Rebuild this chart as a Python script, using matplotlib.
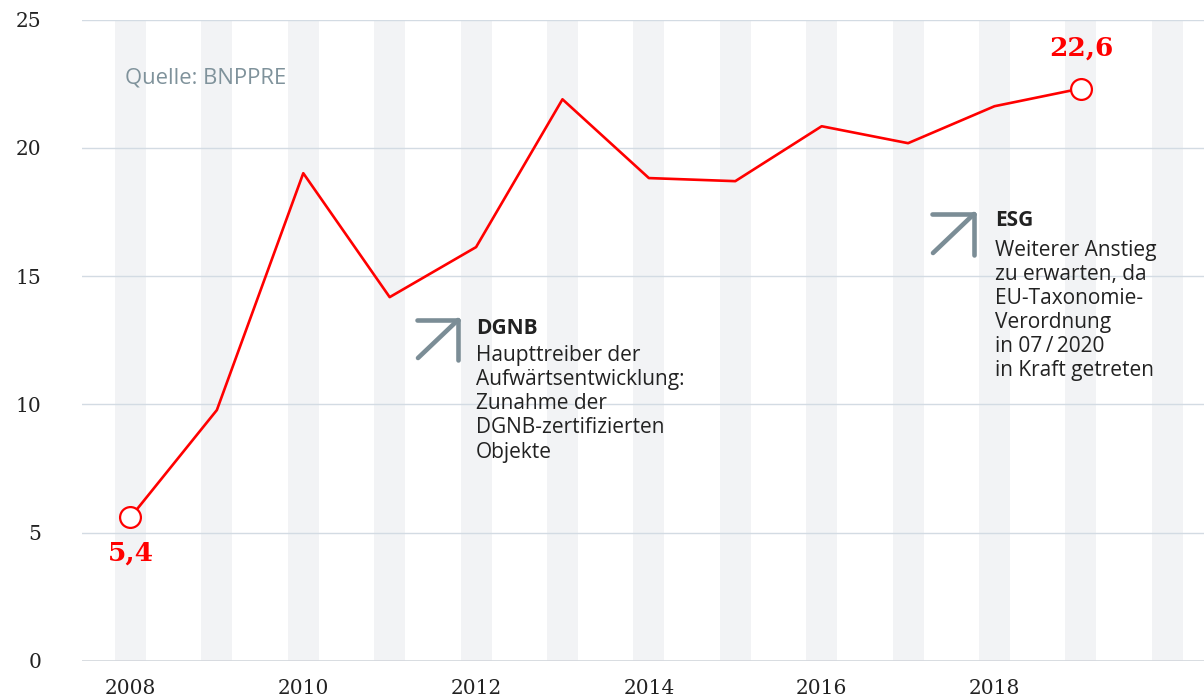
import matplotlib
matplotlib.use("Agg")
import matplotlib.pyplot as plt
from matplotlib.lines import Line2D

years = [2008, 2009, 2010, 2011, 2012, 2013, 2014, 2015, 2016, 2017, 2018, 2019]
values = [5.6, 9.78, 19.01, 14.18, 16.13, 21.89, 18.82, 18.70, 20.84, 20.18, 21.62, 22.31]
band_years = list(range(2008, 2021))
x_tick_years = [2008, 2010, 2012, 2014, 2016, 2018]
y_ticks = [0, 5, 10, 15, 20, 25]
first_label = "5,4"
last_label = "22,6"
source_text = "Quelle: BNPPRE"
dgnb_title = "DGNB"
dgnb_lines = ["Haupttreiber der", "Aufwärtsentwicklung:", "Zunahme der",
              "DGNB-zertifizierten", "Objekte"]
esg_title = "ESG"
esg_lines = ["Weiterer Anstieg", "zu erwarten, da", "EU-Taxonomie-",
             "Verordnung", "in 07\u2009/\u20092020", "in Kraft getreten"]

W, H = 1204, 699
fig = plt.figure(figsize=(W / 100, H / 100), dpi=100)
ax = fig.add_axes([82 / W, 1 - 661 / H, 1 - 82 / W, (661 - 19.5) / H])

RED = "#ff0000"
GREY = "#7b8d96"
TXT = "#222222"

for y in band_years:
    ax.axvspan(y - 0.18, y + 0.18, color="#f2f3f5", zorder=0, lw=0)
for t in y_ticks[1:]:
    ax.axhline(t, color="#d3dbe3", lw=1, zorder=1)
ax.axhline(0, color="#d5d9de", lw=2, zorder=1)

ax.plot(years, values, color=RED, lw=1.9, zorder=3)
ax.plot([years[0], years[-1]], [values[0], values[-1]], ls="none", marker="o",
        ms=15, mfc="white", mec=RED, mew=1.6, zorder=4)

ax.annotate(first_label, (years[0], values[0]), xytext=(0, -36),
            textcoords="offset pixels", ha="center", va="center",
            fontsize=19, fontweight="bold", color=RED, family="DejaVu Serif")
ax.annotate(last_label, (years[-1], values[-1]), xytext=(0, 40),
            textcoords="offset pixels", ha="center", va="center",
            fontsize=19, fontweight="bold", color=RED, family="DejaVu Serif")

ax.set_xlim(2007.439, 2020.425)
ax.set_ylim(0, 25)
ax.set_xticks(x_tick_years)
ax.set_xticklabels([str(y) for y in x_tick_years])
ax.set_yticks(y_ticks)
ax.tick_params(axis="x", length=0, pad=13, labelsize=14.5, labelcolor=TXT)
ax.tick_params(axis="y", length=0, pad=29.5, labelsize=14.5, labelcolor=TXT)
for lab in ax.get_xticklabels() + ax.get_yticklabels():
    lab.set_family("DejaVu Serif")
for s in ax.spines.values():
    s.set_visible(False)


def fp(x, y):
    return x / W, 1 - y / H


def arrow(x0, y0, x1, y1):
    segs = [((x0, y1), (x1, y1)), ((x1, y1), (x1, y0)), ((x0 + 1, y0 - 2), (x1, y1))]
    for (a, b) in segs:
        p, q = fp(*a), fp(*b)
        fig.add_artist(Line2D([p[0], q[0]], [p[1], q[1]], color=GREY, lw=3.3,
                              solid_capstyle="round", transform=fig.transFigure))


SANS = ["Open Sans", "DejaVu Sans"]
fig.text(*fp(125, 78), source_text, ha="left", va="center", fontsize=15.8,
         color="#7f929b", family=SANS)

FS = 15
arrow(417, 360, 458, 320)
fig.text(*fp(476, 328), dgnb_title, ha="left", va="center", fontsize=FS,
         fontweight="bold", color=TXT, family=SANS)
for i, line in enumerate(dgnb_lines):
    fig.text(*fp(476, 355 + 24.3 * i), line, ha="left", va="center",
             fontsize=FS, color=TXT, family=SANS)

arrow(932, 255, 974, 214)
fig.text(*fp(995, 221), esg_title, ha="left", va="center", fontsize=FS,
         fontweight="bold", color=TXT, family=SANS)
for i, line in enumerate(esg_lines):
    fig.text(*fp(995, 250 + 24.1 * i), line, ha="left", va="center",
             fontsize=FS, color=TXT, family=SANS)

fig.savefig("out.png", dpi=100)
